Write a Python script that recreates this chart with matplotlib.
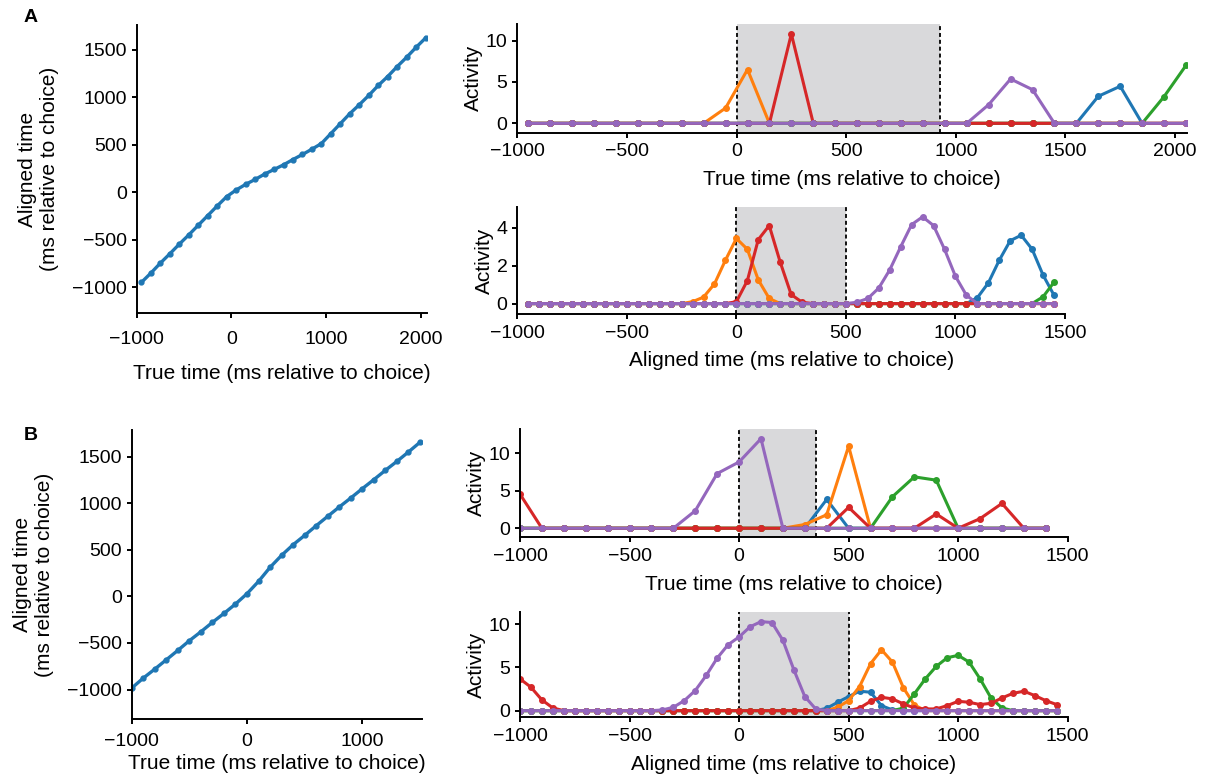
import numpy as np
import matplotlib
matplotlib.use("Agg")
import matplotlib.pyplot as plt

plt.rcParams['font.family'] = ['Liberation Sans', 'DejaVu Sans']
plt.rcParams['font.size'] = 14

# --- warping functions (true time -> aligned time) ---
warp_a_true = np.arange(-950, 2051, 100)
warp_a_aligned = [-948, -850, -745, -647, -545, -448, -346, -245, -143, -45,
                  25, 84, 136, 192, 241, 290, 346, 399, 455, 514,
                  619, 724, 829, 923, 1021, 1126, 1220, 1325, 1423, 1528, 1626]

warp_b_true = np.arange(-1000, 1501, 100)
warp_b_aligned = [-985, -878, -781, -681, -580, -476, -380, -279, -183, -82,
                  29, 161, 312, 441, 555, 655, 759, 860, 960, 1057,
                  1157, 1254, 1354, 1450, 1551, 1655]

# --- A: activity vs true time (100 ms bins) ---
a_true_t = np.arange(-950, 2051, 100)
a_true_blue = [0, 0, 0, 0, 0, 0, 0, 0, 0, 0, 0, 0, 0, 0, 0, 0, 0, 0, 0, 0,
               0, 0, 0, 0, 0, 0, 3.27, 4.48, 0, 0, 0]
a_true_orange = [0, 0, 0, 0, 0, 0, 0, 0, 0, 1.85, 6.5, 0, 0, 0, 0, 0, 0, 0, 0, 0,
                 0, 0, 0, 0, 0, 0, 0, 0, 0, 0, 0]
a_true_green = [0, 0, 0, 0, 0, 0, 0, 0, 0, 0, 0, 0, 0, 0, 0, 0, 0, 0, 0, 0,
                0, 0, 0, 0, 0, 0, 0, 0, 0, 3.23, 7.0]
a_true_red = [0, 0, 0, 0, 0, 0, 0, 0, 0, 0, 0, 0, 10.8, 0, 0, 0, 0, 0, 0, 0,
              0, 0, 0, 0, 0, 0, 0, 0, 0, 0, 0]
a_true_purple = [0, 0, 0, 0, 0, 0, 0, 0, 0, 0, 0, 0, 0, 0, 0, 0, 0, 0, 0, 0,
                 0, 2.26, 5.36, 4.07, 0, 0, 0, 0, 0, 0, 0]

# --- A: activity vs aligned time (50 ms bins) ---
a_al_t = np.arange(-950, 1451, 50)
a_al_blue = [0] * 41 + [0.31, 1.09, 2.29, 3.32, 3.61, 2.87, 1.5, 0.44]
a_al_orange = [0] * 15 + [0.1, 0.34, 1.04, 2.29, 3.44, 2.87, 1.25, 0.27] + [0] * 26
a_al_green = [0] * 47 + [0.36, 1.13]
a_al_red = [0] * 19 + [0.1, 1.21, 3.38, 4.12, 2.19, 0.48, 0.07] + [0] * 23
a_al_purple = [0] * 30 + [0.07, 0.27, 0.82, 1.78, 3.0, 4.17, 4.58, 4.12, 2.87,
                          1.44, 0.44] + [0] * 8

# --- B: activity vs true time (100 ms bins) ---
b_true_t = np.arange(-1000, 1401, 100)
b_true_blue = [0, 0, 0, 0, 0, 0, 0, 0, 0, 0, 0, 0, 0, 0, 3.83, 0, 0, 0, 0, 0,
               0, 0, 0, 0, 0]
b_true_orange = [0, 0, 0, 0, 0, 0, 0, 0, 0, 0, 0, 0, 0, 0.5, 1.8, 10.9, 0, 0, 0, 0,
                 0, 0, 0, 0, 0]
b_true_green = [0, 0, 0, 0, 0, 0, 0, 0, 0, 0, 0, 0, 0, 0, 0, 0, 0, 4.19, 6.83, 6.39,
                0, 0, 0, 0, 0]
b_true_red = [4.54, 0, 0, 0, 0, 0, 0, 0, 0, 0, 0, 0, 0, 0, 0, 2.78, 0, 0, 0, 1.9,
              0, 1.28, 3.3, 0, 0]
b_true_purple = [0, 0, 0, 0, 0, 0, 0, 0, 2.33, 7.27, 8.81, 11.9, 0, 0, 0, 0, 0, 0, 0, 0,
                 0, 0, 0, 0, 0]

# --- B: activity vs aligned time (50 ms bins) ---
b_al_t = np.arange(-1000, 1451, 50)
b_al_blue = [0] * 28 + [0.27, 0.97, 1.63, 2.25, 2.13, 0.58, 0.08] + [0] * 15
b_al_orange = [0] * 29 + [0.39, 1.16, 2.79, 5.43, 7.05, 5.62, 2.64, 0.66] + [0] * 13
b_al_green = [0] * 35 + [0.3, 1.94, 3.68, 5.12, 6.12, 6.4, 5.62, 3.68, 1.47, 0.31] + [0] * 5
b_al_red = [3.68, 2.71, 1.24, 0.31] + [0] * 27 + [0.3, 1.08, 1.55, 1.36, 0.78, 0.31, 0.2,
                                                0.2, 0.58, 1.08, 0.97, 0.7, 0.85, 1.47,
                                                2.0, 2.25, 1.74, 1.16, 0.7]
b_al_purple = [0] * 13 + [0.08, 0.39, 1.16, 2.33, 4.07, 6.08, 7.63, 8.53, 9.7, 10.3,
                          10.2, 8.14, 4.73, 1.63, 0.19] + [0] * 22

colors = {'blue': '#1f77b4', 'orange': '#ff7f0e', 'green': '#2ca02c',
          'red': '#d62728', 'purple': '#9467bd'}
LABEL_SIZE = 15

W, H = 1208, 780
fig = plt.figure(figsize=(W / 100, H / 100), dpi=100)


def add_ax(left, top, right, bottom):
    return fig.add_axes([left / W, 1 - bottom / H, (right - left) / W, (bottom - top) / H])


def style(ax, xpad):
    for s in ['top', 'right']:
        ax.spines[s].set_visible(False)
    for s in ['left', 'bottom']:
        ax.spines[s].set_linewidth(1.4)
    ax.tick_params(direction='out', length=3.6, width=1.4, labelsize=14, pad=3.5)
    ax.tick_params(axis='x', pad=xpad)


def warp_panel(ax, t, a, xlim, ylim, xticks):
    ax.plot(t, a, '-o', color=colors['blue'], lw=2.4, ms=3.5)
    ax.set_xlim(*xlim)
    ax.set_ylim(*ylim)
    ax.set_xticks(xticks)
    ax.set_yticks([-1000, -500, 0, 500, 1000, 1500])
    ax.set_ylabel('Aligned time\n(ms relative to choice)', fontsize=LABEL_SIZE,
                  labelpad=9)
    style(ax, 9)


def activity_panel(ax, t, series, shade, xlim, ylim, xticks, yticks, xlabel):
    ax.axvspan(shade[0], shade[1], color='#d9d9db', lw=0, zorder=0)
    for v in shade:
        ax.axvline(v, color='black', lw=1.3, ls=(0, (2.2, 1.6)), zorder=1)
    for name in ['blue', 'orange', 'green', 'red', 'purple']:
        ax.plot(t, series[name], '-o', color=colors[name], lw=2.2, ms=4, zorder=2)
    ax.set_xlim(*xlim)
    ax.set_ylim(*ylim)
    ax.set_xticks(xticks)
    ax.set_yticks(yticks)
    ax.set_ylabel('Activity', fontsize=LABEL_SIZE, labelpad=2)
    ax.set_xlabel(xlabel, fontsize=LABEL_SIZE, labelpad=7)
    style(ax, 4)


# Panel A
ax = add_ax(136.7, 25, 427, 313.3)
warp_panel(ax, warp_a_true, warp_a_aligned, (-1000, 2065), (-1274, 1763), [-1000, 0, 1000, 2000])
ax.set_xlabel('True time (ms relative to choice)', fontsize=LABEL_SIZE, labelpad=12)

ax = add_ax(517.3, 24, 1187.3, 132.7)
activity_panel(ax, a_true_t,
               {'blue': a_true_blue, 'orange': a_true_orange, 'green': a_true_green,
                'red': a_true_red, 'purple': a_true_purple},
               (0, 930), (-1000, 2056), (-1.13, 12.0),
               [-1000, -500, 0, 500, 1000, 1500, 2000], [0, 5, 10],
               'True time (ms relative to choice)')

ax = add_ax(517.3, 207, 1065, 314)
activity_panel(ax, a_al_t,
               {'blue': a_al_blue, 'orange': a_al_orange, 'green': a_al_green,
                'red': a_al_red, 'purple': a_al_purple},
               (0, 500), (-1000, 1500), (-0.55, 5.1),
               [-1000, -500, 0, 500, 1000, 1500], [0, 2, 4],
               'Aligned time (ms relative to choice)')

# Panel B
ax = add_ax(131.7, 430, 421.7, 719.3)
warp_panel(ax, warp_b_true, warp_b_aligned, (-1000, 1515), (-1320, 1787), [-1000, 0, 1000])
ax.tick_params(axis='x', pad=6)
ax.set_xlabel('True time (ms relative to choice)', fontsize=LABEL_SIZE, labelpad=3)

ax = add_ax(520, 429.3, 1067.7, 537.3)
activity_panel(ax, b_true_t,
               {'blue': b_true_blue, 'orange': b_true_orange, 'green': b_true_green,
                'red': b_true_red, 'purple': b_true_purple},
               (0, 350), (-1000, 1500), (-1.2, 13.15),
               [-1000, -500, 0, 500, 1000, 1500], [0, 5, 10],
               'True time (ms relative to choice)')

ax = add_ax(520, 611.7, 1067.7, 717.3)
activity_panel(ax, b_al_t,
               {'blue': b_al_blue, 'orange': b_al_orange, 'green': b_al_green,
                'red': b_al_red, 'purple': b_al_purple},
               (0, 500), (-1000, 1500), (-0.77, 11.45),
               [-1000, -500, 0, 500, 1000, 1500], [0, 5, 10],
               'Aligned time (ms relative to choice)')

fig.text(24 / W, 1 - 17 / H, 'A', fontsize=14, fontweight='bold', va='center')
fig.text(24 / W, 1 - 436 / H, 'B', fontsize=14, fontweight='bold', va='center')

fig.savefig('out.png', dpi=100)
